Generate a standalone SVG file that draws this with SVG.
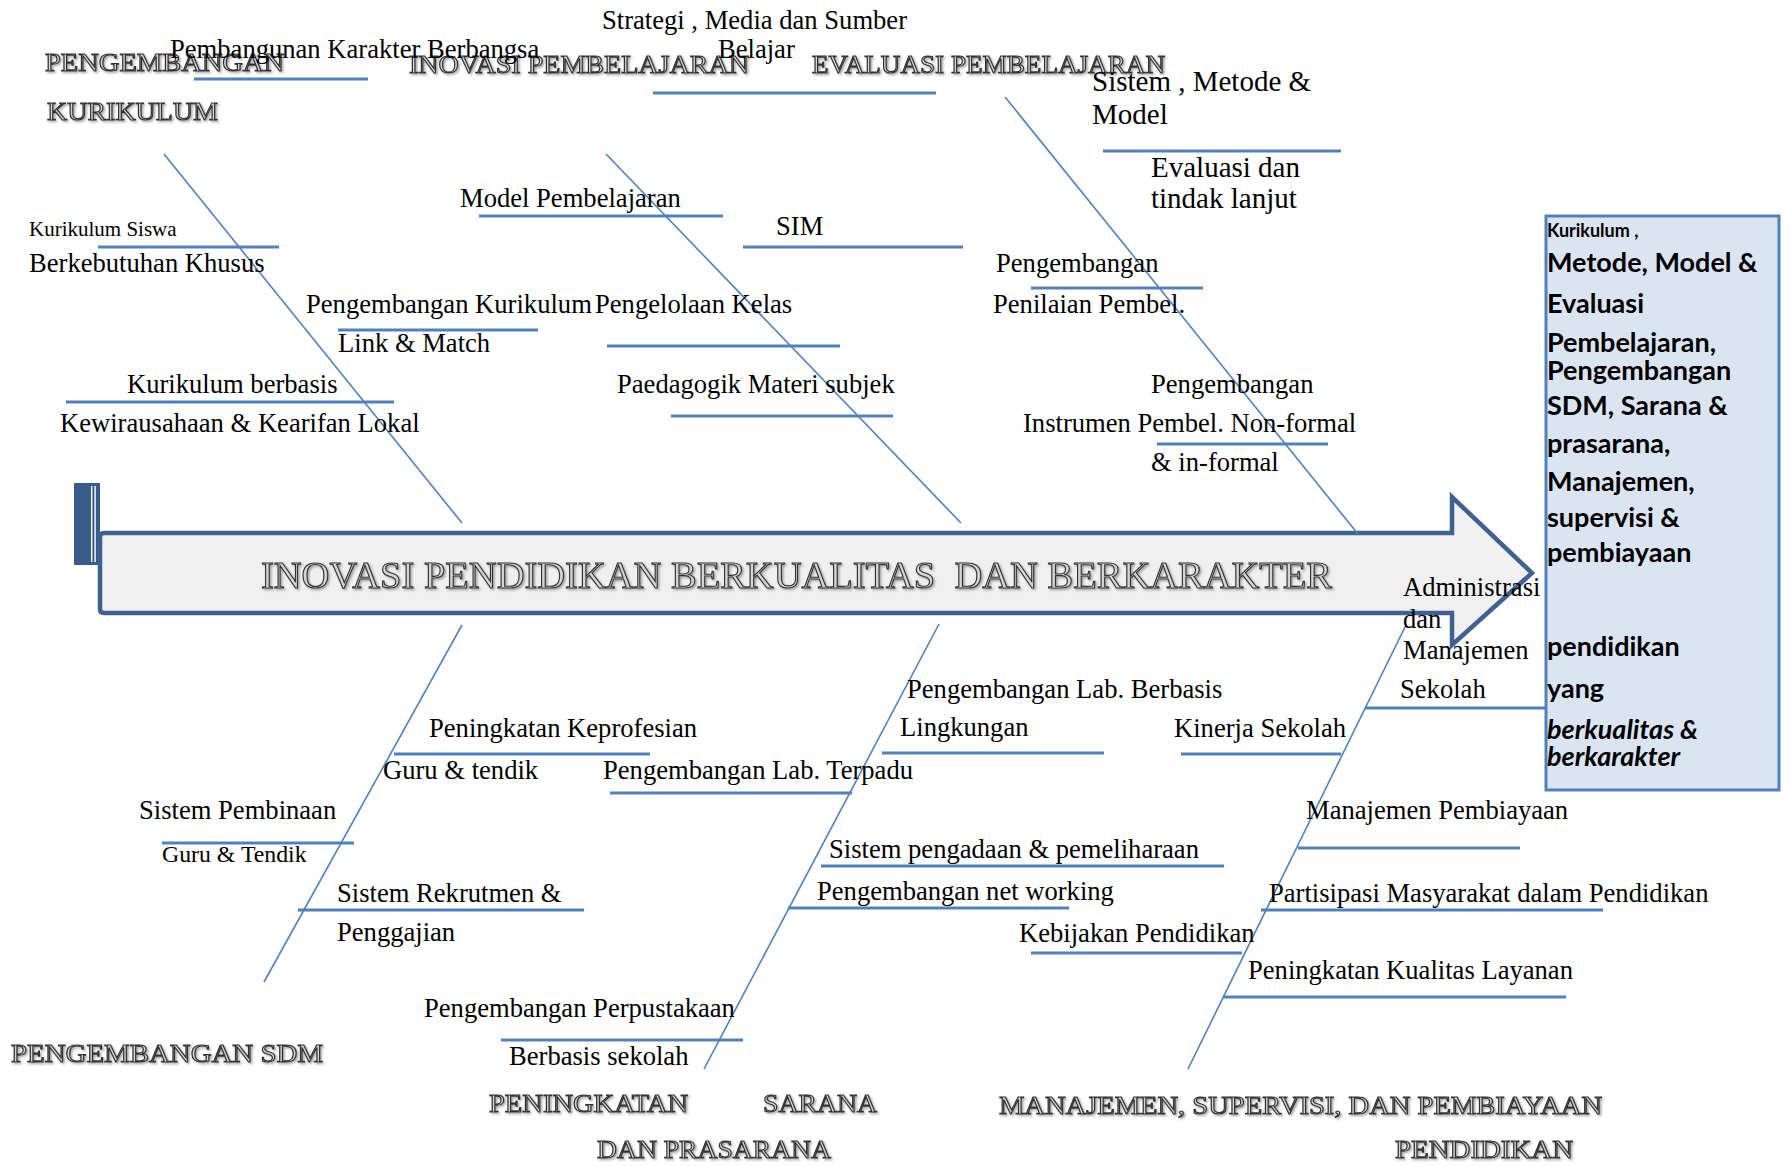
<svg xmlns="http://www.w3.org/2000/svg" width="1790" height="1166" viewBox="0 0 1790 1166">
<defs>
<filter id="sh" x="-5%" y="-20%" width="110%" height="150%">
<feDropShadow dx="1.5" dy="1.5" stdDeviation="1" flood-color="#777" flood-opacity="0.7"/>
</filter>
</defs>
<style>
.t{font-family:"Liberation Serif","Times New Roman",serif;font-size:26.6px;fill:#000}
.hd{font-family:"Liberation Serif","Times New Roman",serif;font-size:25px;fill:#d4d4d4;stroke:#333;stroke-width:1.1px;filter:url(#sh)}
.bone{stroke:#4f81bd;stroke-width:1.6;fill:none}
.sub{stroke:#4f81bd;stroke-width:3.2;fill:none}
.bx{font-family:Lato,"Open Sans","Liberation Sans",sans-serif;font-weight:bold;font-size:27px;fill:#000}
</style>
<rect width="1790" height="1166" fill="#fff"/>

<!-- spine arrow -->
<g id="spine">
<rect x="74" y="483" width="26" height="82" fill="#385d8a"/>
<rect x="91" y="486" width="1.4" height="76" fill="#fff"/>
<rect x="94.4" y="486" width="1.4" height="76" fill="#fff"/>
<path d="M104,533 H1452 V497 L1532,573 L1452,645 V613 H104 Q100,613 100,609 V537 Q100,533 104,533 Z" fill="#f0f0f0" stroke="#3f6190" stroke-width="4.5" stroke-linejoin="miter"/>
<text class="hd" x="261" y="588" textLength="1071" lengthAdjust="spacingAndGlyphs" xml:space="preserve" style="font-size:37px">INOVASI PENDIDIKAN BERKUALITAS  DAN BERKARAKTER</text>
</g>

<!-- result box -->
<g id="effect">
<rect x="1546" y="216" width="233" height="574" fill="#dbe5f1" stroke="#4f81bd" stroke-width="3"/>
<text class="bx" x="1547" y="237" style="font-size:18px">Kurikulum ,</text>
<text class="bx" x="1547" y="272">Metode, Model &amp;</text>
<text class="bx" x="1547" y="313">Evaluasi</text>
<text class="bx" x="1547" y="352">Pembelajaran,</text>
<text class="bx" x="1547" y="380">Pengembangan</text>
<text class="bx" x="1547" y="415">SDM, Sarana &amp;</text>
<text class="bx" x="1547" y="453">prasarana,</text>
<text class="bx" x="1547" y="491">Manajemen,</text>
<text class="bx" x="1547" y="527">supervisi &amp;</text>
<text class="bx" x="1547" y="562">pembiayaan</text>
<text class="bx" x="1547" y="656">pendidikan</text>
<text class="bx" x="1547" y="698">yang</text>
<text class="bx" x="1547" y="739" font-style="italic">berkualitas &amp;</text>
<text class="bx" x="1547" y="766" font-style="italic">berkarakter</text>
</g>

<!-- connectors -->
<g id="connectors">
<line class="bone" x1="164" y1="154" x2="462" y2="523"/>
<line class="bone" x1="606" y1="154" x2="961" y2="523"/>
<line class="bone" x1="1005" y1="97" x2="1358" y2="534"/>
<line class="bone" x1="462" y1="625" x2="264" y2="982"/>
<line class="bone" x1="939" y1="624" x2="704" y2="1069"/>
<line class="bone" x1="1406" y1="625" x2="1188" y2="1069"/>

<line class="sub" x1="194" y1="79" x2="368" y2="79"/>
<line class="sub" x1="653" y1="93" x2="936" y2="93"/>
<line class="sub" x1="479" y1="216" x2="723" y2="216"/>
<line class="sub" x1="98" y1="247" x2="279" y2="247"/>
<line class="sub" x1="743" y1="247" x2="963" y2="247"/>
<line class="sub" x1="338" y1="330" x2="538" y2="330"/>
<line class="sub" x1="607" y1="346" x2="840" y2="346"/>
<line class="sub" x1="66" y1="402" x2="394" y2="402"/>
<line class="sub" x1="671" y1="416" x2="893" y2="416"/>
<line class="sub" x1="1103" y1="151" x2="1341" y2="151"/>
<line class="sub" x1="1031" y1="288" x2="1203" y2="288"/>
<line class="sub" x1="1157" y1="444" x2="1328" y2="444"/>

<line class="sub" x1="394" y1="754" x2="650" y2="754"/>
<line class="sub" x1="610" y1="793" x2="852" y2="793"/>
<line class="sub" x1="162" y1="843" x2="354" y2="843"/>
<line class="sub" x1="298" y1="910" x2="584" y2="910"/>
<line class="sub" x1="501" y1="1040" x2="743" y2="1040"/>
<line class="sub" x1="882" y1="753" x2="1104" y2="753"/>
<line class="sub" x1="821" y1="866" x2="1224" y2="866"/>
<line class="sub" x1="788" y1="908" x2="1069" y2="908"/>
<line class="sub" x1="1181" y1="754" x2="1341" y2="754"/>
<line class="sub" x1="1365" y1="708" x2="1546" y2="708"/>
<line class="sub" x1="1298" y1="848" x2="1520" y2="848"/>
<line class="sub" x1="1261" y1="910" x2="1603" y2="910"/>
<line class="sub" x1="1031" y1="953" x2="1242" y2="953"/>
<line class="sub" x1="1223" y1="997" x2="1566" y2="997"/>
</g>

<!-- category headings -->
<g id="cat-kurikulum">
<text class="hd" x="45" y="71" textLength="239" lengthAdjust="spacingAndGlyphs">PENGEMBANGAN</text>
<text class="hd" x="47" y="120" textLength="171" lengthAdjust="spacingAndGlyphs">KURIKULUM</text>
</g>
<g id="cat-inovasi">
<text class="hd" x="409" y="73" textLength="340" lengthAdjust="spacingAndGlyphs">INOVASI PEMBELAJARAN</text>
</g>
<g id="cat-evaluasi">
<text class="hd" x="812" y="73" textLength="353" lengthAdjust="spacingAndGlyphs">EVALUASI PEMBELAJARAN</text>
</g>
<g id="cat-sdm">
<text class="hd" x="11" y="1062" textLength="312" lengthAdjust="spacingAndGlyphs">PENGEMBANGAN SDM</text>
</g>
<g id="cat-sarana">
<text class="hd" x="489" y="1112" textLength="199" lengthAdjust="spacingAndGlyphs">PENINGKATAN</text>
<text class="hd" x="763" y="1112" textLength="114" lengthAdjust="spacingAndGlyphs">SARANA</text>
<text class="hd" x="597" y="1158" textLength="234" lengthAdjust="spacingAndGlyphs">DAN PRASARANA</text>
</g>
<g id="cat-manajemen">
<text class="hd" x="999" y="1114" textLength="603" lengthAdjust="spacingAndGlyphs">MANAJEMEN, SUPERVISI, DAN PEMBIAYAAN</text>
<text class="hd" x="1395" y="1158" textLength="178" lengthAdjust="spacingAndGlyphs">PENDIDIKAN</text>
</g>

<!-- cause labels -->
<g id="n-strategi"><text class="t" x="602" y="29">Strategi , Media dan Sumber</text><text class="t" x="718" y="58">Belajar</text></g>
<g id="n-karakter"><text class="t" x="170" y="58">Pembangunan Karakter Berbangsa</text></g>
<g id="n-model"><text class="t" x="460" y="207">Model Pembelajaran</text></g>
<g id="n-sim"><text class="t" x="776" y="235">SIM</text></g>
<g id="n-abk"><text class="t" x="29" y="236" style="font-size:21px">Kurikulum Siswa</text><text class="t" x="29" y="272">Berkebutuhan Khusus</text></g>
<g id="n-linkmatch"><text class="t" x="306" y="313">Pengembangan Kurikulum</text><text class="t" x="338" y="352">Link &amp; Match</text></g>
<g id="n-kelas"><text class="t" x="595" y="313">Pengelolaan Kelas</text></g>
<g id="n-kewirausahaan"><text class="t" x="127" y="393">Kurikulum berbasis</text><text class="t" x="60" y="432">Kewirausahaan &amp; Kearifan Lokal</text></g>
<g id="n-paedagogik"><text class="t" x="617" y="393">Paedagogik Materi subjek</text></g>
<g id="n-sistem"><text class="t" x="1092" y="91" style="font-size:29px">Sistem , Metode &amp;</text><text class="t" x="1092" y="124" style="font-size:29px">Model</text></g>
<g id="n-tindaklanjut"><text class="t" x="1151" y="177" style="font-size:29px">Evaluasi dan</text><text class="t" x="1151" y="208" style="font-size:29px">tindak lanjut</text></g>
<g id="n-penilaian"><text class="t" x="996" y="272">Pengembangan</text><text class="t" x="993" y="313">Penilaian Pembel.</text></g>
<g id="n-instrumen"><text class="t" x="1151" y="393">Pengembangan</text><text class="t" x="1023" y="432">Instrumen Pembel. Non-formal</text><text class="t" x="1151" y="471">&amp; in-formal</text></g>

<g id="n-keprofesian"><text class="t" x="429" y="737">Peningkatan Keprofesian</text><text class="t" x="383" y="779">Guru &amp; tendik</text></g>
<g id="n-labterpadu"><text class="t" x="603" y="779">Pengembangan Lab. Terpadu</text></g>
<g id="n-pembinaan"><text class="t" x="139" y="819">Sistem Pembinaan</text><text class="t" x="162" y="862" style="font-size:23.8px">Guru &amp; Tendik</text></g>
<g id="n-rekrutmen"><text class="t" x="337" y="902">Sistem Rekrutmen &amp;</text><text class="t" x="337" y="941">Penggajian</text></g>
<g id="n-perpustakaan"><text class="t" x="424" y="1017">Pengembangan Perpustakaan</text><text class="t" x="509" y="1065">Berbasis sekolah</text></g>
<g id="n-lablingkungan"><text class="t" x="907" y="698">Pengembangan Lab. Berbasis</text><text class="t" x="900" y="736">Lingkungan</text></g>
<g id="n-pengadaan"><text class="t" x="829" y="858">Sistem pengadaan &amp; pemeliharaan</text></g>
<g id="n-networking"><text class="t" x="817" y="900">Pengembangan net working</text></g>
<g id="n-administrasi"><text class="t" x="1403" y="596">Administrasi</text><text class="t" x="1403" y="628">dan</text><text class="t" x="1403" y="659">Manajemen</text><text class="t" x="1400" y="698">Sekolah</text></g>
<g id="n-kinerja"><text class="t" x="1174" y="737">Kinerja Sekolah</text></g>
<g id="n-pembiayaan"><text class="t" x="1306" y="819">Manajemen Pembiayaan</text></g>
<g id="n-partisipasi"><text class="t" x="1269" y="902">Partisipasi Masyarakat dalam Pendidikan</text></g>
<g id="n-kebijakan"><text class="t" x="1019" y="942">Kebijakan Pendidikan</text></g>
<g id="n-layanan"><text class="t" x="1248" y="979">Peningkatan Kualitas Layanan</text></g>
</svg>
